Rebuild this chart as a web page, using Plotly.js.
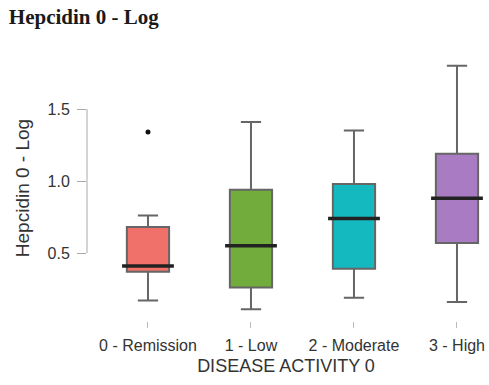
<!DOCTYPE html>
<html><head><meta charset="utf-8">
<script src="https://cdn.plot.ly/plotly-3.0.1.min.js"></script>
<style>html,body{margin:0;padding:0;background:#fff}</style>
</head><body><div id="chart" style="width:489px;height:385px"></div>
<script>
const categories = ['0 - Remission', '1 - Low', '2 - Moderate', '3 - High'];
const lowerWhisker = [0.17, 0.11, 0.19, 0.16];
const q1Values = [0.37, 0.26, 0.39, 0.57];
const medianValues = [0.41, 0.55, 0.74, 0.88];
const q3Values = [0.68, 0.94, 0.98, 1.19];
const upperWhisker = [0.76, 1.41, 1.35, 1.80];
const outlierCategories = ['0 - Remission'];
const outlierValues = [1.34];
const boxColors = ['#F0706A', '#72AC3C', '#13B9BE', '#A87BC3'];
const yTicks = [0.5, 1.0, 1.5];

const traces = categories.map((c, i) => ({
  type: 'box', x: [c], q1: [q1Values[i]], median: [medianValues[i]], q3: [q3Values[i]],
  lowerfence: [lowerWhisker[i]], upperfence: [upperWhisker[i]],
  fillcolor: boxColors[i], line: {color: '#666', width: 2},
  whiskerwidth: 0.48, width: 0.41, boxpoints: false, hoverinfo: 'skip', showlegend: false
}));
traces.push({
  type: 'scatter', mode: 'markers', x: categories, y: medianValues,
  marker: {symbol: 'line-ew', size: 37, line: {color: '#222', width: 3.5}},
  showlegend: false, hoverinfo: 'skip'
});
traces.push({
  type: 'scatter', mode: 'markers', x: outlierCategories, y: outlierValues,
  marker: {color: '#111', size: 5}, showlegend: false, hoverinfo: 'skip'
});

const layout = {
  width: 489, height: 385,
  margin: {l: 87, r: 4, t: 55, b: 64},
  paper_bgcolor: '#fff', plot_bgcolor: '#fff',
  boxmode: 'overlay',
  title: {text: '<b>Hepcidin 0 - Log</b>', x: 0.018, xanchor: 'left', y: 0.958, yanchor: 'middle',
    font: {family: 'Liberation Serif, Times New Roman, serif', size: 21, color: '#1a1a1a'}},
  xaxis: {
    type: 'category', categoryarray: categories, range: [-0.592, 3.272],
    showgrid: false, zeroline: false, showline: false,
    ticks: 'outside', ticklen: 6, tickwidth: 1, tickcolor: '#bbb',
    ticklabelstandoff: 4,
    tickfont: {family: 'Liberation Sans, Arial, sans-serif', size: 16, color: '#333'},
    title: {text: 'DISEASE ACTIVITY 0', standoff: 6,
      font: {family: 'Liberation Sans, Arial, sans-serif', size: 18, color: '#333'}}
  },
  yaxis: {
    range: [0.028, 1.875], tickvals: yTicks, ticktext: yTicks.map(v => v.toFixed(1)),
    showgrid: false, zeroline: false, showline: false,
    ticks: 'outside', ticklen: 9, tickwidth: 1, tickcolor: '#aaa',
    ticklabelstandoff: 4,
    tickfont: {family: 'Liberation Sans, Arial, sans-serif', size: 16, color: '#333'},
    title: {text: 'Hepcidin 0 - Log', standoff: 12,
      font: {family: 'Liberation Sans, Arial, sans-serif', size: 19, color: '#333'}}
  },
  shapes: [{type: 'line', xref: 'paper', yref: 'y', x0: 0, x1: 0, y0: yTicks[0], y1: yTicks[yTicks.length - 1],
    line: {color: '#aaa', width: 1}}]
};
Plotly.newPlot('chart', traces, layout, {displayModeBar: false, staticPlot: true});
</script></body></html>
